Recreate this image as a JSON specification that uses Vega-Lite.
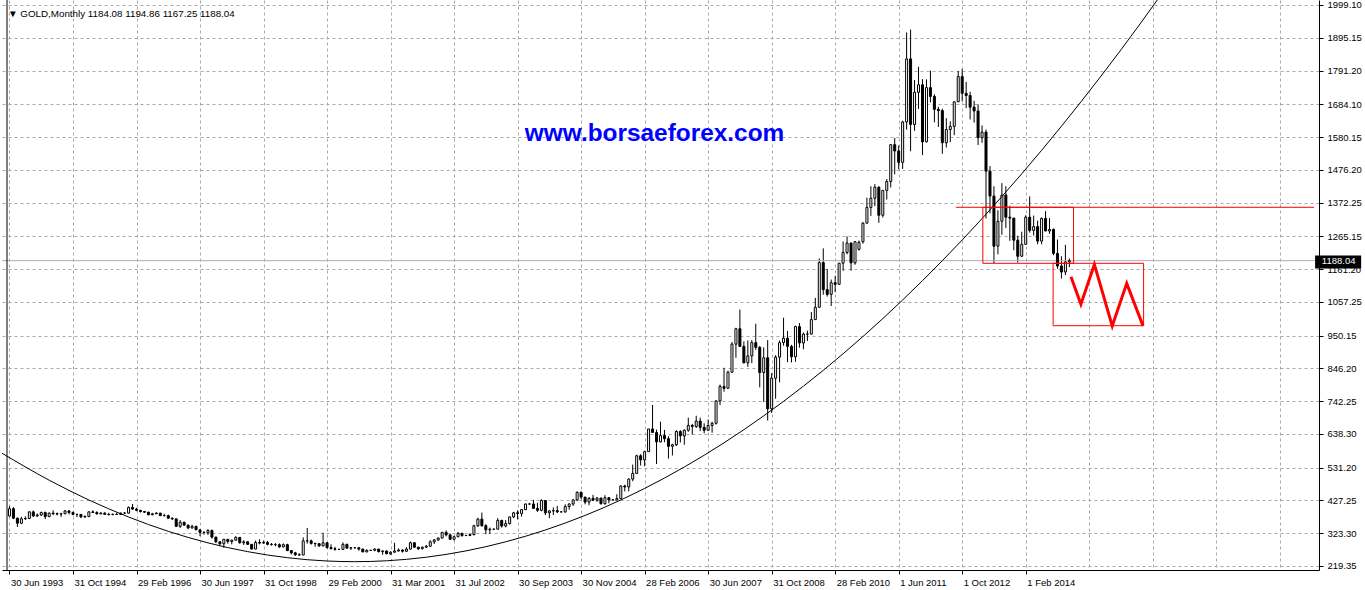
{
"$schema": "https://vega.github.io/schema/vega-lite/v6.json",
"width": 1317,
"height": 570,
"autosize": "none",
"padding": {"left": 2, "top": 0, "right": 46, "bottom": 20},
"background": "#ffffff",
"config": {
  "view": {"stroke": null},
  "font": "Liberation Sans",
  "axis": {"labelFont": "Liberation Sans", "labelFontSize": 9.5, "labelColor": "#000000", "tickColor": "#000000", "domainColor": "#000000", "gridColor": "#a8a8a8", "gridDash": [3, 3], "gridWidth": 1}
},
"datasets": {
"bars": [
{"i":0,"o":378,"h":409,"l":376,"c":401},{"i":1,"o":401,"h":406,"l":368,"c":371},{"i":2,"o":371,"h":373,"l":343,"c":355},{"i":3,"o":355,"h":375,"l":352,"c":369},{"i":4,"o":369,"h":377,"l":366,"c":370},{"i":5,"o":370,"h":393,"l":368,"c":391},{"i":6,"o":391,"h":395,"l":375,"c":378},{"i":7,"o":378,"h":386,"l":375,"c":381},{"i":8,"o":381,"h":392,"l":378,"c":389},{"i":9,"o":389,"h":392,"l":368,"c":376},
{"i":10,"o":376,"h":389,"l":374,"c":387},{"i":11,"o":387,"h":396,"l":381,"c":385},{"i":12,"o":385,"h":389,"l":380,"c":384},{"i":13,"o":384,"h":388,"l":375,"c":385},{"i":14,"o":385,"h":397,"l":384,"c":394},{"i":15,"o":394,"h":396,"l":383,"c":389},{"i":16,"o":389,"h":392,"l":380,"c":383},{"i":17,"o":383,"h":385,"l":374,"c":383},{"i":18,"o":383,"h":384,"l":371,"c":375},{"i":19,"o":375,"h":380,"l":372,"c":376},
{"i":20,"o":376,"h":393,"l":375,"c":391},{"i":21,"o":391,"h":396,"l":388,"c":389},{"i":22,"o":389,"h":393,"l":382,"c":385},{"i":23,"o":385,"h":390,"l":383,"c":387},{"i":24,"o":387,"h":390,"l":382,"c":383},{"i":25,"o":383,"h":388,"l":380,"c":382},{"i":26,"o":382,"h":386,"l":381,"c":383},{"i":27,"o":383,"h":388,"l":381,"c":383},{"i":28,"o":383,"h":389,"l":381,"c":387},{"i":29,"o":387,"h":390,"l":385,"c":387},
{"i":30,"o":387,"h":408,"l":386,"c":405},{"i":31,"o":405,"h":416,"l":398,"c":400},{"i":32,"o":400,"h":404,"l":393,"c":396},{"i":33,"o":396,"h":397,"l":389,"c":392},{"i":34,"o":392,"h":394,"l":388,"c":390},{"i":35,"o":390,"h":391,"l":380,"c":382},{"i":36,"o":382,"h":388,"l":380,"c":385},{"i":37,"o":385,"h":390,"l":384,"c":387},{"i":38,"o":387,"h":388,"l":378,"c":379},{"i":39,"o":379,"h":385,"l":377,"c":379},
{"i":40,"o":379,"h":382,"l":369,"c":371},{"i":41,"o":371,"h":373,"l":365,"c":369},{"i":42,"o":369,"h":369,"l":343,"c":345},{"i":43,"o":345,"h":365,"l":340,"c":358},{"i":44,"o":358,"h":360,"l":347,"c":349},{"i":45,"o":349,"h":350,"l":336,"c":340},{"i":46,"o":340,"h":350,"l":338,"c":345},{"i":47,"o":345,"h":347,"l":334,"c":334},{"i":48,"o":334,"h":335,"l":314,"c":326},{"i":49,"o":326,"h":330,"l":319,"c":325},
{"i":50,"o":325,"h":336,"l":318,"c":332},{"i":51,"o":332,"h":335,"l":306,"c":311},{"i":52,"o":311,"h":312,"l":292,"c":296},{"i":53,"o":296,"h":297,"l":283,"c":290},{"i":54,"o":290,"h":305,"l":277,"c":304},{"i":55,"o":304,"h":305,"l":290,"c":297},{"i":56,"o":297,"h":303,"l":288,"c":301},{"i":57,"o":301,"h":314,"l":300,"c":310},{"i":58,"o":310,"h":311,"l":290,"c":293},{"i":59,"o":293,"h":301,"l":286,"c":296},
{"i":60,"o":296,"h":298,"l":286,"c":288},{"i":61,"o":288,"h":289,"l":272,"c":273},{"i":62,"o":273,"h":300,"l":273,"c":294},{"i":63,"o":294,"h":304,"l":288,"c":292},{"i":64,"o":292,"h":300,"l":290,"c":294},{"i":65,"o":294,"h":299,"l":285,"c":288},{"i":66,"o":288,"h":292,"l":284,"c":287},{"i":67,"o":287,"h":292,"l":282,"c":287},{"i":68,"o":287,"h":291,"l":277,"c":280},{"i":69,"o":280,"h":291,"l":278,"c":287},
{"i":70,"o":287,"h":290,"l":267,"c":268},{"i":71,"o":268,"h":270,"l":256,"c":261},{"i":72,"o":261,"h":264,"l":251,"c":255},{"i":73,"o":255,"h":260,"l":252,"c":254},{"i":74,"o":254,"h":310,"l":254,"c":299},{"i":75,"o":299,"h":340,"l":290,"c":299},{"i":76,"o":299,"h":303,"l":287,"c":291},{"i":77,"o":291,"h":293,"l":280,"c":290},{"i":78,"o":290,"h":292,"l":280,"c":283},{"i":79,"o":283,"h":325,"l":282,"c":293},
{"i":80,"o":293,"h":294,"l":274,"c":278},{"i":81,"o":278,"h":288,"l":272,"c":274},{"i":82,"o":274,"h":280,"l":268,"c":272},{"i":83,"o":272,"h":274,"l":270,"c":272},{"i":84,"o":272,"h":294,"l":270,"c":288},{"i":85,"o":288,"h":290,"l":274,"c":276},{"i":86,"o":276,"h":279,"l":270,"c":277},{"i":87,"o":277,"h":278,"l":275,"c":277},{"i":88,"o":277,"h":280,"l":268,"c":273},{"i":89,"o":273,"h":274,"l":263,"c":264},
{"i":90,"o":264,"h":272,"l":263,"c":269},{"i":91,"o":269,"h":270,"l":267,"c":269},{"i":92,"o":269,"h":275,"l":266,"c":273},{"i":93,"o":273,"h":273,"l":262,"c":265},{"i":94,"o":265,"h":268,"l":255,"c":267},{"i":95,"o":267,"h":268,"l":257,"c":258},{"i":96,"o":258,"h":266,"l":254,"c":263},{"i":97,"o":263,"h":293,"l":262,"c":267},{"i":98,"o":267,"h":275,"l":265,"c":270},{"i":99,"o":270,"h":272,"l":262,"c":266},
{"i":100,"o":266,"h":279,"l":264,"c":273},{"i":101,"o":273,"h":297,"l":271,"c":293},{"i":102,"o":293,"h":294,"l":277,"c":279},{"i":103,"o":279,"h":280,"l":270,"c":274},{"i":104,"o":274,"h":281,"l":272,"c":279},{"i":105,"o":279,"h":286,"l":276,"c":282},{"i":106,"o":282,"h":301,"l":280,"c":296},{"i":107,"o":296,"h":305,"l":289,"c":302},{"i":108,"o":302,"h":310,"l":299,"c":308},{"i":109,"o":308,"h":327,"l":307,"c":326},
{"i":110,"o":326,"h":332,"l":313,"c":318},{"i":111,"o":318,"h":322,"l":302,"c":304},{"i":112,"o":304,"h":315,"l":300,"c":312},{"i":113,"o":312,"h":327,"l":311,"c":323},{"i":114,"o":323,"h":324,"l":312,"c":316},{"i":115,"o":316,"h":318,"l":314,"c":316},{"i":116,"o":316,"h":323,"l":314,"c":319},{"i":117,"o":319,"h":350,"l":316,"c":347},{"i":118,"o":347,"h":372,"l":343,"c":368},{"i":119,"o":368,"h":389,"l":344,"c":347},
{"i":120,"o":347,"h":352,"l":320,"c":334},{"i":121,"o":334,"h":341,"l":321,"c":336},{"i":122,"o":336,"h":338,"l":334,"c":336},{"i":123,"o":336,"h":371,"l":336,"c":364},{"i":124,"o":364,"h":366,"l":341,"c":346},{"i":125,"o":346,"h":365,"l":342,"c":354},{"i":126,"o":354,"h":376,"l":351,"c":375},{"i":127,"o":375,"h":391,"l":371,"c":388},{"i":128,"o":388,"h":396,"l":367,"c":386},{"i":129,"o":386,"h":399,"l":376,"c":398},
{"i":130,"o":398,"h":417,"l":397,"c":416},{"i":131,"o":416,"h":418,"l":414,"c":416},{"i":132,"o":416,"h":429,"l":400,"c":402},{"i":133,"o":402,"h":420,"l":391,"c":396},{"i":134,"o":396,"h":431,"l":393,"c":427},{"i":135,"o":427,"h":428,"l":381,"c":388},{"i":136,"o":388,"h":396,"l":371,"c":394},{"i":137,"o":394,"h":405,"l":381,"c":395},{"i":138,"o":395,"h":410,"l":387,"c":391},{"i":139,"o":391,"h":393,"l":389,"c":391},
{"i":140,"o":391,"h":415,"l":388,"c":408},{"i":141,"o":408,"h":418,"l":398,"c":416},{"i":142,"o":416,"h":431,"l":410,"c":429},{"i":143,"o":429,"h":456,"l":425,"c":453},{"i":144,"o":453,"h":456,"l":431,"c":438},{"i":145,"o":438,"h":438,"l":415,"c":422},{"i":146,"o":422,"h":438,"l":412,"c":434},{"i":147,"o":434,"h":445,"l":426,"c":428},{"i":148,"o":428,"h":438,"l":423,"c":435},{"i":149,"o":435,"h":435,"l":414,"c":417},
{"i":150,"o":417,"h":444,"l":414,"c":436},{"i":151,"o":436,"h":437,"l":418,"c":429},{"i":152,"o":429,"h":431,"l":427,"c":429},{"i":153,"o":429,"h":447,"l":429,"c":433},{"i":154,"o":433,"h":475,"l":433,"c":473},{"i":155,"o":473,"h":477,"l":456,"c":470},{"i":156,"o":470,"h":497,"l":456,"c":495},{"i":157,"o":495,"h":541,"l":488,"c":513},{"i":158,"o":513,"h":572,"l":513,"c":569},{"i":159,"o":569,"h":574,"l":538,"c":556},
{"i":160,"o":556,"h":585,"l":536,"c":582},{"i":161,"o":582,"h":654,"l":581,"c":654},{"i":162,"o":654,"h":730,"l":643,"c":643},{"i":163,"o":643,"h":652,"l":543,"c":613},{"i":164,"o":613,"h":677,"l":612,"c":633},{"i":165,"o":633,"h":651,"l":612,"c":623},{"i":166,"o":623,"h":631,"l":560,"c":599},{"i":167,"o":599,"h":607,"l":570,"c":604},{"i":168,"o":604,"h":650,"l":600,"c":646},{"i":169,"o":646,"h":650,"l":611,"c":632},
{"i":170,"o":632,"h":653,"l":604,"c":650},{"i":171,"o":650,"h":690,"l":645,"c":665},{"i":172,"o":665,"h":670,"l":636,"c":662},{"i":173,"o":662,"h":696,"l":657,"c":679},{"i":174,"o":679,"h":690,"l":647,"c":659},{"i":175,"o":659,"h":672,"l":640,"c":650},{"i":176,"o":650,"h":684,"l":648,"c":665},{"i":177,"o":665,"h":677,"l":642,"c":672},{"i":178,"o":672,"h":745,"l":668,"c":743},{"i":179,"o":743,"h":795,"l":730,"c":789},
{"i":180,"o":789,"h":848,"l":772,"c":783},{"i":181,"o":783,"h":839,"l":783,"c":834},{"i":182,"o":834,"h":930,"l":834,"c":923},{"i":183,"o":923,"h":975,"l":880,"c":972},{"i":184,"o":972,"h":1033,"l":918,"c":916},{"i":185,"o":916,"h":932,"l":862,"c":864},{"i":186,"o":864,"h":935,"l":851,"c":886},{"i":187,"o":886,"h":936,"l":863,"c":928},{"i":188,"o":928,"h":988,"l":905,"c":913},{"i":189,"o":913,"h":917,"l":786,"c":833},
{"i":190,"o":833,"h":913,"l":740,"c":880},{"i":191,"o":880,"h":936,"l":681,"c":718},{"i":192,"o":718,"h":831,"l":705,"c":815},{"i":193,"o":815,"h":888,"l":750,"c":882},{"i":194,"o":882,"h":935,"l":802,"c":928},{"i":195,"o":928,"h":1007,"l":918,"c":942},{"i":196,"o":942,"h":965,"l":866,"c":916},{"i":197,"o":916,"h":921,"l":865,"c":883},{"i":198,"o":883,"h":982,"l":867,"c":979},{"i":199,"o":979,"h":990,"l":912,"c":927},
{"i":200,"o":927,"h":960,"l":907,"c":955},{"i":201,"o":955,"h":966,"l":933,"c":955},{"i":202,"o":955,"h":1025,"l":954,"c":1001},{"i":203,"o":1001,"h":1070,"l":1001,"c":1040},{"i":204,"o":1040,"h":1195,"l":1040,"c":1182},{"i":205,"o":1182,"h":1227,"l":1080,"c":1096},{"i":206,"o":1096,"h":1162,"l":1074,"c":1081},{"i":207,"o":1081,"h":1128,"l":1044,"c":1118},{"i":208,"o":1118,"h":1140,"l":1088,"c":1113},{"i":209,"o":1113,"h":1180,"l":1112,"c":1180},
{"i":210,"o":1180,"h":1249,"l":1156,"c":1214},{"i":211,"o":1214,"h":1265,"l":1208,"c":1244},{"i":212,"o":1244,"h":1245,"l":1156,"c":1181},{"i":213,"o":1181,"h":1250,"l":1175,"c":1248},{"i":214,"o":1224,"h":1252,"l":1220,"c":1246},{"i":215,"o":1248,"h":1310,"l":1242,"c":1307},{"i":216,"o":1307,"h":1388,"l":1306,"c":1357},{"i":217,"o":1357,"h":1424,"l":1330,"c":1386},{"i":218,"o":1386,"h":1431,"l":1361,"c":1421},{"i":219,"o":1421,"h":1424,"l":1308,"c":1332},
{"i":220,"o":1332,"h":1411,"l":1325,"c":1411},{"i":221,"o":1411,"h":1447,"l":1382,"c":1439},{"i":222,"o":1439,"h":1557,"l":1420,"c":1556},{"i":223,"o":1556,"h":1577,"l":1462,"c":1536},{"i":224,"o":1536,"h":1553,"l":1478,"c":1500},{"i":225,"o":1500,"h":1632,"l":1479,"c":1628},{"i":226,"o":1628,"h":1912,"l":1604,"c":1828},{"i":227,"o":1828,"h":1921,"l":1535,"c":1620},{"i":228,"o":1620,"h":1761,"l":1600,"c":1722},{"i":229,"o":1722,"h":1803,"l":1669,"c":1746},
{"i":230,"o":1746,"h":1764,"l":1523,"c":1565},{"i":231,"o":1565,"h":1763,"l":1563,"c":1737},{"i":232,"o":1737,"h":1791,"l":1690,"c":1709},{"i":233,"o":1709,"h":1716,"l":1627,"c":1668},{"i":234,"o":1668,"h":1676,"l":1612,"c":1664},{"i":235,"o":1664,"h":1670,"l":1527,"c":1562},{"i":236,"o":1562,"h":1640,"l":1547,"c":1604},{"i":237,"o":1604,"h":1630,"l":1564,"c":1614},{"i":238,"o":1614,"h":1692,"l":1586,"c":1692},{"i":239,"o":1692,"h":1790,"l":1691,"c":1772},
{"i":240,"o":1772,"h":1796,"l":1693,"c":1719},{"i":241,"o":1719,"h":1755,"l":1672,"c":1712},{"i":242,"o":1712,"h":1724,"l":1636,"c":1675},{"i":243,"o":1675,"h":1695,"l":1626,"c":1663},{"i":244,"o":1663,"h":1684,"l":1555,"c":1578},{"i":245,"o":1578,"h":1617,"l":1562,"c":1596},{"i":246,"o":1596,"h":1604,"l":1322,"c":1472},{"i":247,"o":1472,"h":1488,"l":1338,"c":1393},{"i":248,"o":1393,"h":1424,"l":1180,"c":1234},{"i":249,"o":1234,"h":1348,"l":1208,"c":1313},
{"i":250,"o":1313,"h":1434,"l":1270,"c":1396},{"i":251,"o":1396,"h":1424,"l":1292,"c":1326},{"i":252,"o":1326,"h":1362,"l":1251,"c":1323},{"i":253,"o":1323,"h":1323,"l":1221,"c":1253},{"i":254,"o":1253,"h":1267,"l":1182,"c":1202},{"i":255,"o":1202,"h":1280,"l":1200,"c":1240},{"i":256,"o":1240,"h":1332,"l":1238,"c":1326},{"i":257,"o":1326,"h":1392,"l":1277,"c":1284},{"i":258,"o":1284,"h":1331,"l":1268,"c":1296},{"i":259,"o":1296,"h":1315,"l":1240,"c":1250},
{"i":260,"o":1250,"h":1325,"l":1240,"c":1322},{"i":261,"o":1322,"h":1345,"l":1285,"c":1282},{"i":262,"o":1282,"h":1323,"l":1273,"c":1287},{"i":263,"o":1287,"h":1290,"l":1205,"c":1211},{"i":264,"o":1211,"h":1255,"l":1162,"c":1171},{"i":265,"o":1171,"h":1202,"l":1131,"c":1152},{"i":266,"o":1152,"h":1238,"l":1142,"c":1184},{"i":267,"o":1184.08,"h":1194.86,"l":1167.25,"c":1188.04}
],
"curve": [
{"i":-2,"p":578},{"i":10,"p":491.5},{"i":20,"p":428.7},{"i":30,"p":374.7},{"i":40,"p":329.3},{"i":50,"p":292.7},{"i":60,"p":264.8},{"i":70,"p":245.6},{"i":80,"p":235.1},{"i":87,"p":233},{"i":95,"p":235.8},{"i":105,"p":247.1},{"i":115,"p":267.2},{"i":125,"p":296},{"i":135,"p":333.5},{"i":145,"p":379.7},{"i":155,"p":434.6},{"i":165,"p":498.3},{"i":175,"p":570.6},{"i":185,"p":651.7},{"i":195,"p":741.6},{"i":205,"p":840.1},{"i":215,"p":947.3},{"i":225,"p":1063.3},{"i":235,"p":1188},{"i":245,"p":1321.4},{"i":255,"p":1463.6},{"i":265,"p":1614.4},{"i":275,"p":1774},{"i":285,"p":1942.3},{"i":295,"p":2119.3}
],
"zig": [
{"k":1,"i":267.4,"p":1137},{"k":2,"i":269.9,"p":1050},{"k":3,"i":273.3,"p":1176},{"k":4,"i":277.8,"p":981},{"k":5,"i":281.45,"p":1116},{"k":6,"i":285.55,"p":981}
],
"boxes": [
{"i1":245.2,"i2":268.05,"p1":1357.3,"p2":1179.6},
{"i1":262.9,"i2":285.7,"p1":1179.6,"p2":981.6}
]
},
"layer": [
{
  "data": {"name": "bars"},
  "mark": {"type": "rule", "color": "#000000", "strokeWidth": 1},
  "encoding": {
    "x": {"field": "i", "type": "quantitative", "scale": {"domain": [-0.625, 328.625], "nice": false, "zero": false},
      "axis": {"orient": "bottom", "title": null, "values": [0,16,32,48,64,80,96,112,128,144,160,176,192,208,224,240,256,272,288,304,320], "tickCount": 60,
        "labelExpr": "datum.value <= 256 ? ['30 Jun 1993','31 Oct 1994','29 Feb 1996','30 Jun 1997','31 Oct 1998','29 Feb 2000','31 Mar 2001','31 Jul 2002','30 Sep 2003','30 Nov 2004','28 Feb 2006','30 Jun 2007','31 Oct 2008','28 Feb 2010','1 Jun 2011','1 Oct 2012','1 Feb 2014'][floor(datum.value/16)] : ''",
        "labelAlign": "left", "labelBaseline": "top", "labelPadding": 3, "labelOffset": 1, "labelOverlap": false, "labelFlush": false,
        "tickSize": 4, "tickOpacity": {"condition": {"test": "datum.value > 256", "value": 0}, "value": 1}, "grid": true, "domain": true}},
    "y": {"field": "l", "type": "quantitative", "scale": {"domain": [206.58, 2014.96], "nice": false, "zero": false},
      "axis": {"orient": "right", "title": null, "values": [219.35, 323.30, 427.25, 531.20, 638.30, 742.25, 846.20, 950.15, 1057.25, 1161.20, 1265.15, 1372.25, 1476.20, 1580.15, 1684.10, 1791.20, 1895.15, 1999.10], "tickCount": 60,
        "format": ".2f", "labelAlign": "left", "labelBaseline": "middle", "labelPadding": 4, "tickSize": 4, "labelOverlap": false, "labelFlush": false, "grid": true, "domain": true}},
    "y2": {"field": "h"}
  }
},
{
  "data": {"values": [{"p": 1188.04}]},
  "mark": {"type": "rule", "color": "#b4a8bc", "strokeWidth": 1},
  "encoding": {
    "y": {"field": "p", "type": "quantitative", "title": null, "scale": {"domain": [206.58, 2014.96], "nice": false, "zero": false}}
  }
},
{
  "data": {"name": "bars"},
  "mark": {"type": "bar", "width": 2, "stroke": "#000000", "strokeWidth": 1},
  "encoding": {
    "x": {"field": "i", "type": "quantitative", "title": null, "scale": {"domain": [-0.625, 328.625], "nice": false, "zero": false}},
    "y": {"field": "o", "type": "quantitative", "title": null, "scale": {"domain": [206.58, 2014.96], "nice": false, "zero": false}},
    "y2": {"field": "c"},
    "fill": {"condition": {"test": "datum.c >= datum.o", "value": "#ffffff"}, "value": "#000000"}
  }
},
{
  "data": {"name": "curve"},
  "mark": {"type": "line", "color": "#000000", "strokeWidth": 1, "interpolate": "monotone", "clip": true},
  "encoding": {
    "x": {"field": "i", "type": "quantitative", "title": null, "scale": {"domain": [-0.625, 328.625], "nice": false, "zero": false}},
    "y": {"field": "p", "type": "quantitative", "title": null, "scale": {"domain": [206.58, 2014.96], "nice": false, "zero": false}}
  }
},
{
  "data": {"values": [{"i1": 238.4, "i2": 328.625, "p": 1357.3}]},
  "mark": {"type": "rule", "color": "#ff0000", "strokeWidth": 1},
  "encoding": {
    "x": {"field": "i1", "type": "quantitative", "title": null, "scale": {"domain": [-0.625, 328.625], "nice": false, "zero": false}},
    "x2": {"field": "i2"},
    "y": {"field": "p", "type": "quantitative", "title": null, "scale": {"domain": [206.58, 2014.96], "nice": false, "zero": false}}
  }
},
{
  "data": {"name": "boxes"},
  "mark": {"type": "rect", "filled": false, "stroke": "#ff0000", "strokeWidth": 1},
  "encoding": {
    "x": {"field": "i1", "type": "quantitative", "title": null, "scale": {"domain": [-0.625, 328.625], "nice": false, "zero": false}},
    "x2": {"field": "i2"},
    "y": {"field": "p1", "type": "quantitative", "title": null, "scale": {"domain": [206.58, 2014.96], "nice": false, "zero": false}},
    "y2": {"field": "p2"}
  }
},
{
  "data": {"name": "zig"},
  "mark": {"type": "line", "color": "#ff0000", "strokeWidth": 3, "strokeJoin": "miter"},
  "encoding": {
    "x": {"field": "i", "type": "quantitative", "title": null, "scale": {"domain": [-0.625, 328.625], "nice": false, "zero": false}},
    "y": {"field": "p", "type": "quantitative", "title": null, "scale": {"domain": [206.58, 2014.96], "nice": false, "zero": false}},
    "order": {"field": "k"}
  }
},
{
  "data": {"values": [{"i": -0.625}]},
  "mark": {"type": "rule", "color": "#000000", "strokeWidth": 1},
  "encoding": {
    "x": {"field": "i", "type": "quantitative", "title": null, "scale": {"domain": [-0.625, 328.625], "nice": false, "zero": false}}
  }
},
{
  "data": {"values": [{"i": 162.5, "p": 1567.6, "t": "www.borsaeforex.com"}]},
  "mark": {"type": "text", "font": "Liberation Sans", "fontWeight": "bold", "fontSize": 24.4, "color": "#0000ff", "align": "center", "baseline": "alphabetic"},
  "encoding": {
    "x": {"field": "i", "type": "quantitative", "title": null, "scale": {"domain": [-0.625, 328.625], "nice": false, "zero": false}},
    "y": {"field": "p", "type": "quantitative", "title": null, "scale": {"domain": [206.58, 2014.96], "nice": false, "zero": false}},
    "text": {"field": "t"}
  }
},
{
  "data": {"values": [{"i": -0.4, "p": 1962.6, "t": "▼ GOLD,Monthly 1184.08 1194.86 1167.25 1188.04"}]},
  "mark": {"type": "text", "font": "Liberation Sans", "fontSize": 9.8, "color": "#000000", "align": "left", "baseline": "alphabetic"},
  "encoding": {
    "x": {"field": "i", "type": "quantitative", "title": null, "scale": {"domain": [-0.625, 328.625], "nice": false, "zero": false}},
    "y": {"field": "p", "type": "quantitative", "title": null, "scale": {"domain": [206.58, 2014.96], "nice": false, "zero": false}},
    "text": {"field": "t"}
  }
},
{
  "data": {"values": [{"i1": 328.9, "i2": 340.5, "p1": 1204.4, "p2": 1163.1}]},
  "mark": {"type": "rect", "color": "#000000", "clip": false},
  "encoding": {
    "x": {"field": "i1", "type": "quantitative", "title": null, "scale": {"domain": [-0.625, 328.625], "nice": false, "zero": false}},
    "x2": {"field": "i2"},
    "y": {"field": "p1", "type": "quantitative", "title": null, "scale": {"domain": [206.58, 2014.96], "nice": false, "zero": false}},
    "y2": {"field": "p2"}
  }
},
{
  "data": {"values": [{"i": 330.6, "p": 1188.04, "t": "1188.04"}]},
  "mark": {"type": "text", "font": "Liberation Sans", "fontSize": 9.5, "color": "#ffffff", "align": "left", "baseline": "middle", "clip": false},
  "encoding": {
    "x": {"field": "i", "type": "quantitative", "title": null, "scale": {"domain": [-0.625, 328.625], "nice": false, "zero": false}},
    "y": {"field": "p", "type": "quantitative", "title": null, "scale": {"domain": [206.58, 2014.96], "nice": false, "zero": false}},
    "text": {"field": "t"}
  }
}
]
}
